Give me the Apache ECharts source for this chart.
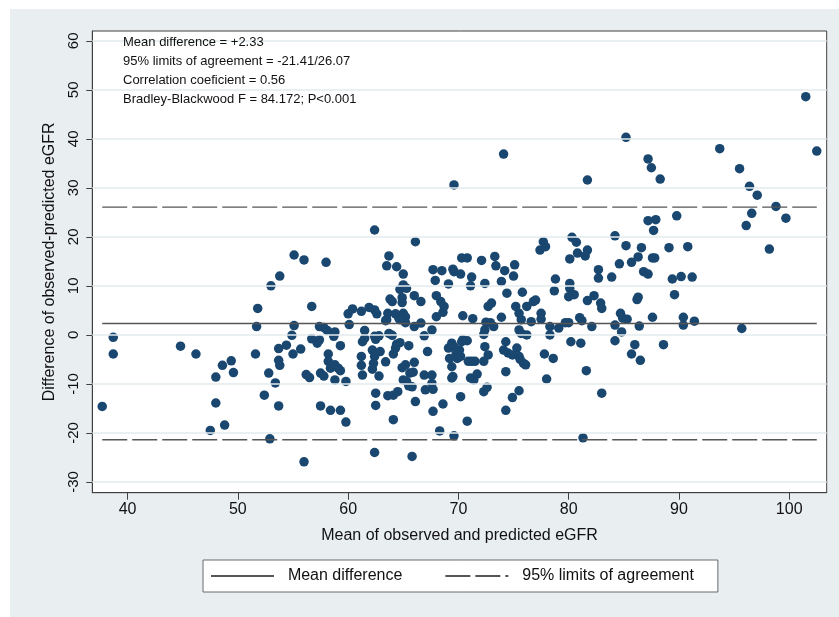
<!DOCTYPE html>
<html>
<head>
<meta charset="utf-8">
<script src="https://cdn.jsdelivr.net/npm/echarts@6/dist/echarts.min.js"></script>
<style>html,body{margin:0;padding:0;background:#fff}#c{width:839px;height:617px}</style>
</head>
<body>
<div id="c"></div>
<script>
// [mean of observed and predicted eGFR, difference observed - predicted]
const points = [
[37.7,-14.6],[38.7,-0.5],[38.7,-3.9],[44.8,-2.3],[46.2,-3.9],[48.6,-6.2],[48.0,-8.6],[49.4,-5.3],[49.6,-7.7],[48.0,-13.9],[47.5,-19.5],[48.8,-18.4],
[51.8,5.4],[51.7,1.7],[51.6,-3.9],[52.8,-7.8],[52.4,-12.3],[52.9,-21.2],[53.4,-9.8],[53.7,-5.2],[53.8,-6.2],[53.7,-2.8],[54.4,-2.1],[53.7,-14.5],[54.9,-0.1],[55.1,1.9],[55.0,-3.9],[55.7,-2.9],[56.0,-25.9],[56.7,5.8],[56.2,-8.1],[56.5,-8.7],[56.7,-0.8],[57.2,-1.7],[57.4,-1.0],[57.4,1.7],[57.8,1.5],[58.1,0.9],[57.5,-7.8],[57.8,-8.4],[57.5,-14.5],[58.2,-3.9],[58.2,-5.4],[58.4,-6.8],[58.7,-0.3],[58.8,0.6],[58.4,-15.4],[58.8,-9.2],[58.8,-6.1],[59.1,-6.8],[59.3,-7.3],[59.3,-2.2],[59.3,-15.4],[59.8,-17.8],[59.8,-9.5],
[53.0,10.0],[53.8,12.0],[55.1,16.3],[56.0,15.3],[58.0,14.8],
[60.1,2.1],[60.0,4.3],[60.4,5.3],[61.2,4.8],[61.5,0.9],[61.3,-1.4],[61.2,-4.4],[61.2,-6.2],[61.3,-8.2],[61.9,5.6],[62.4,5.1],[62.6,4.3],[62.5,-0.9],[62.2,-3.1],[62.4,-4.4],[62.3,-5.8],[62.2,-7.0],[62.8,-8.4],[62.5,-11.9],[62.5,-14.4],[62.4,-24.0],[62.8,-0.2],[62.9,-3.4],[63.4,-5.5],[63.5,3.1],[63.6,4.4],[64.0,6.8],[63.7,0.3],[64.0,-0.1],[63.6,-12.4],[64.1,-12.3],[64.5,-11.6],[64.1,-17.3],[64.1,-3.9],[64.3,-2.7],[64.4,-1.9],[64.7,-1.6],[64.3,4.3],[64.7,3.1],[65.0,4.4],[65.2,3.7],[65.2,2.5],[64.9,6.6],[64.9,-6.7],[65.0,-9.2],[65.5,-2.2],[65.8,-24.8],[66.1,-13.6],[66.0,-5.6],[65.6,-7.8],[65.5,-10.4],[66.0,1.7],[65.3,-9.5],[65.2,-6.1],[65.8,-10.6],[65.9,-7.6],
[62.4,21.4],[66.1,19.0],[63.7,16.1],[63.5,14.1],[64.4,13.9],[65.0,12.4],[65.0,10.2],[64.7,9.3],[65.3,9.5],[64.9,7.6],[63.8,7.3],[66.0,8.0],[66.6,6.8],[63.4,2.9],[64.6,3.4],[66.6,2.4],[61.5,-0.7],[62.4,-0.3],
[66.9,-8.2],[67.0,-11.2],[67.2,-3.4],[66.9,-0.2],[68.0,3.7],[68.6,4.6],[68.7,5.8],[68.4,6.8],[67.6,1.0],[67.6,-8.2],[67.7,-11.1],[67.6,-9.9],[67.7,-15.6],[68.6,-14.1],[68.3,-19.6],[69.6,-20.6],[70.4,3.9],[71.3,3.3],
[69.1,-2.7],[69.4,-1.7],[69.6,-2.4],[69.2,-4.8],[69.9,-4.8],[70.1,-3.1],[70.3,-1.4],[70.4,-1.0],[70.8,-1.2],[69.8,-3.7],[70.2,-4.4],[69.4,-6.5],
[69.4,-8.8],[69.5,-8.5],[71.1,-8.8],[71.4,-9.2],[71.7,-8.0],[70.2,-12.6],[70.8,-17.6],[70.9,-5.4],[71.2,-5.4],[71.5,-5.4],
[72.3,0.1],[72.5,2.6],[72.9,2.5],[72.4,-2.4],[72.3,-5.4],[72.7,-4.1],[72.4,1.0],[72.3,-11.6],[72.6,-10.7],[73.2,1.7],[72.7,5.8],[73.0,6.5],[73.9,3.6],
[67.7,13.3],[68.5,13.1],[69.5,13.4],[69.6,12.9],[70.2,12.4],[67.9,11.1],[69.1,10.4],[71.2,11.8],[71.1,10.0],[72.4,10.5],[73.9,10.9],[68.0,8.0],
[70.3,15.7],[70.8,15.7],[72.1,15.2],[73.3,16.0],[73.4,14.1],[74.2,13.1],[75.1,14.3],[75.0,12.0],[74.4,8.5],[75.8,8.7],
[69.6,30.6],[74.1,36.9],
[74.3,-1.4],[74.3,-7.5],[74.3,-15.4],[74.9,-12.8],[75.5,-11.4],
[74.1,-3.1],[74.5,-3.7],[74.9,-4.1],[75.3,-2.7],[75.5,-4.4],[75.6,-5.0],[75.9,-5.8],[76.1,-6.1],
[75.2,5.8],[75.5,4.4],[75.7,3.1],[75.5,1.0],[75.7,0.3],[76.2,0.0],[76.2,5.8],[76.6,2.7],[76.8,6.8],[77.5,4.4],[77.5,3.2],
[78.3,1.7],[78.3,0.0],[77.8,-3.9],[78.6,-4.8],[78.0,-9.0],[79.1,1.4],[79.7,2.5],[80.0,2.5],[80.2,-1.4],[81.1,-1.7],[81.0,3.5],[81.2,2.9],[82.1,1.7],[81.6,-7.3],[83.0,-11.9],[81.3,-21.0],
[77.4,17.3],[77.7,19.0],[77.9,18.0],[80.3,19.9],[80.7,18.9],[80.1,15.5],[80.8,16.7],[81.5,16.1],[81.7,17.3],[84.2,20.2],[84.6,14.5],[78.8,11.4],[78.7,9.0],[80.1,10.5],[80.1,9.5],[80.0,7.8],[80.5,8.2],[81.7,7.0],[82.3,8.0],[82.9,6.5],[83.0,5.4],[82.7,13.3],[82.7,11.6],[83.9,11.8],[84.7,4.4],[77.0,7.1],[81.7,31.6],
[84.2,2.0],[84.9,3.4],[85.3,3.2],[84.8,0.6],[84.2,-1.2],[86.0,-2.0],[85.7,-3.9],[86.5,-5.2],[86.4,1.8],[87.6,3.6],[88.6,-2.0],[90.4,3.6],[90.4,2.0],[91.4,2.8],[95.7,1.3],
[85.2,40.3],[87.2,35.9],[87.5,34.1],[88.3,31.8],[93.7,38.0],[95.5,33.9],[96.4,30.3],[97.1,28.5],[96.6,24.8],[96.1,22.3],[98.8,26.2],[99.7,23.8],[98.2,17.5],[102.5,37.5],[101.5,48.6],
[87.2,23.3],[87.9,23.5],[87.7,21.3],[89.8,24.3],[85.2,18.2],[86.6,17.8],[89.1,17.8],[90.8,18.0],[86.3,15.9],[85.7,14.8],[87.6,15.7],[87.8,15.7],[86.8,12.9],[87.2,12.4],[89.4,11.4],[90.2,11.9],[91.2,11.8],[89.6,8.2],[86.3,7.7],[86.2,7.2]
];
const meanDifference = 2.33;
const lowerLimit = -21.41;
const upperLimit = 26.07;
const xTicks = [40, 50, 60, 70, 80, 90, 100];
const yTicks = [-30, -20, -10, 0, 10, 20, 30, 40, 50, 60];
const annotations = [
  'Mean difference = +2.33',
  '95% limits of agreement = -21.41/26.07',
  'Correlation coeficient = 0.56',
  'Bradley-Blackwood F = 84.172; P<0.001'
];

const xs = points.map(p => p[0]);
const xMin = Math.min(...xs), xMax = Math.max(...xs);
const FONT = '"Liberation Sans", Arial, Helvetica, sans-serif';
const axisColor = '#404040';
const lineColor = '#555555';

const chart = echarts.init(document.getElementById('c'), null, {renderer: 'canvas'});
const option = {
  backgroundColor: '#ffffff',
  animation: false,
  textStyle: {fontFamily: FONT},
  graphic: [
    {type: 'rect', shape: {x: 10, y: 9, width: 829, height: 608}, style: {fill: '#e9eef1'}, z: -100, silent: true}
  ].concat(annotations.map((t, i) => ({
    type: 'text', left: 123, top: 36 + i * 18.9, z: 100, silent: true,
    style: {text: t, font: '13px ' + FONT, fill: '#111'}
  }))),
  grid: {left: 92.3, top: 31, right: 12.3, bottom: 124.3, show: true, backgroundColor: '#ffffff', borderColor: axisColor, borderWidth: 1},
  legend: {
    data: ['Mean difference', '95% limits of agreement'],
    left: 203, top: 560,
    itemWidth: 63, itemHeight: 14, itemGap: 42,
    padding: [8, 24, 8, 7],
    borderColor: '#6a6a6a', borderWidth: 1, backgroundColor: '#ffffff',
    selectedMode: false,
    itemStyle: {color: 'rgba(0,0,0,0)', borderWidth: 0, opacity: 0},
    formatter: name => '  ' + name,
    textStyle: {fontSize: 16, color: '#111', fontFamily: FONT}
  },
  xAxis: {
    type: 'value', min: 36.8, max: 103.4,
    name: 'Mean of observed and predicted eGFR', nameLocation: 'middle', nameGap: 35,
    nameTextStyle: {fontSize: 16, color: '#111', fontFamily: FONT},
    axisLine: {show: true, onZero: false, lineStyle: {color: axisColor, width: 1}},
    axisTick: {show: true, length: 7, customValues: xTicks, lineStyle: {color: axisColor}},
    axisLabel: {customValues: xTicks, fontSize: 16, color: '#111', margin: 9},
    splitLine: {show: false}
  },
  yAxis: {
    type: 'value', min: -32.2, max: 62,
    name: 'Difference of observed-predicted eGFR', nameLocation: 'middle', nameGap: 35, nameRotate: 90,
    nameTextStyle: {fontSize: 16, color: '#111', fontFamily: FONT},
    axisLine: {show: true, onZero: false, lineStyle: {color: axisColor, width: 1}},
    axisTick: {show: true, length: 6, customValues: yTicks, lineStyle: {color: axisColor}},
    axisLabel: {customValues: yTicks, rotate: 90, fontSize: 15, color: '#111', margin: 11},
    splitLine: {show: false}
  },
  series: [
    {
      type: 'line', name: 'gridlines', data: [], z: 1, silent: true,
      markLine: {
        silent: true, symbol: 'none', label: {show: false}, animation: false,
        lineStyle: {color: '#e3eaee', width: 1.5, type: 'solid'},
        data: yTicks.map(v => ({yAxis: v}))
      }
    },
    {
      type: 'scatter', name: 'points', data: points, symbol: 'circle', symbolSize: 9.5, z: 3,
      itemStyle: {color: '#1a476f', opacity: 1}
    },
    {
      type: 'line', name: 'Mean difference', data: [[xMin, meanDifference], [xMax, meanDifference]],
      symbol: 'none', z: 4, lineStyle: {color: lineColor, width: 1.4, type: 'solid'}, itemStyle: {color: lineColor}
    },
    {
      type: 'line', name: '95% limits of agreement', data: [[xMin, upperLimit], [xMax, upperLimit]],
      symbol: 'none', z: 4, lineStyle: {color: lineColor, width: 1.4, type: [25, 5]}, itemStyle: {color: lineColor}
    },
    {
      type: 'line', name: '95% limits of agreement', data: [[xMin, lowerLimit], [xMax, lowerLimit]],
      symbol: 'none', z: 4, lineStyle: {color: lineColor, width: 1.4, type: [25, 5]}, itemStyle: {color: lineColor}
    }
  ]
};
chart.setOption(option);
</script>
</body>
</html>
